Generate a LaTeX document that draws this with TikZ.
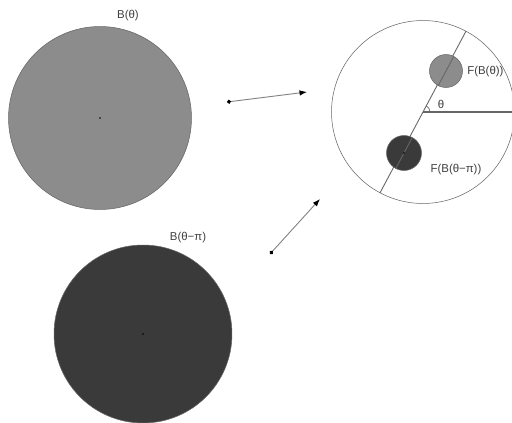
\documentclass[tikz,border=0pt]{standalone}
\usepackage{fontspec}
\setmainfont{Liberation Sans}
\usepackage{xcolor}
\usetikzlibrary{arrows.meta, calc}

\definecolor{discgray}{HTML}{8C8C8C}
\definecolor{discdark}{HTML}{3A3A3A}

\begin{document}
\begin{tikzpicture}[
  x=0.02cm, y=-0.02cm,
  >={Latex[length=1.5mm, width=1.1mm, color=black]},
  font=\fontsize{6.5}{7}\selectfont,
  disc/.style={circle, draw=black!60, line width=0.3pt, inner sep=0pt},
  big/.style={disc, minimum size=3.66cm},
  small/.style={disc, minimum size=0.66cm},
  lbl/.style={inner sep=0pt, text=black!75},
  dot/.style={circle, fill=black, inner sep=0pt, minimum size=1.1pt},
  arr/.style={{Circle[length=0.8mm, color=black]}->, draw=black!50, line width=0.5pt}
]
\useasboundingbox (0,0) rectangle (512,423);

% source discs
\node[big, fill=discgray] (bt) at (100,118) {};
\node[big, fill=discdark, minimum size=3.56cm] (bpi) at (143,334) {};
\node[dot] at (bt.center) {};
\node[dot] at (bpi.center) {};
\node[lbl] (btlbl) at (128,16) {B(θ)};
\node[lbl] (bpilbl) at (188,238) {B(θ−π)};

% image disc
\node[big, fill=white] (fc) at (423,112) {};
\draw[black!60, line width=0.5pt] (fc.62.6) -- (fc.242.6);
\draw[black!60, line width=0.8pt] (fc.center) -- (fc.east);
\draw[black!60, line width=0.4pt] ($(fc.center)+(7,0)$) arc[start angle=0, end angle=62.6, radius=0.14cm];
\node[lbl] (thlbl) at (441,104) {θ};

\node[small, fill=discgray] (fbt) at (446,71) {};
\node[small, fill=discdark, minimum size=0.7cm] (fbpi) at (404,153) {};
\draw[black!60, line width=0.5pt] (fbt.62.6) -- (fbt.242.6);
\draw[black!60, line width=0.5pt] (fbpi.62.6) -- (fbpi.242.6);
\node[dot] at (fbpi.center) {};
\node[lbl, anchor=west] (fbtlbl) at (467,72) {F(B(θ))};
\node[lbl] (fbpilbl) at (456,170) {F(B(θ−π))};

% maps
\coordinate (a1) at (227,102);
\coordinate (a2) at (307,92);
\coordinate (b1) at (270,254);
\coordinate (b2) at (320,199);
\draw[arr] (a1) -- (a2);
\draw[arr] (b1) -- (b2);
\end{tikzpicture}
\end{document}
